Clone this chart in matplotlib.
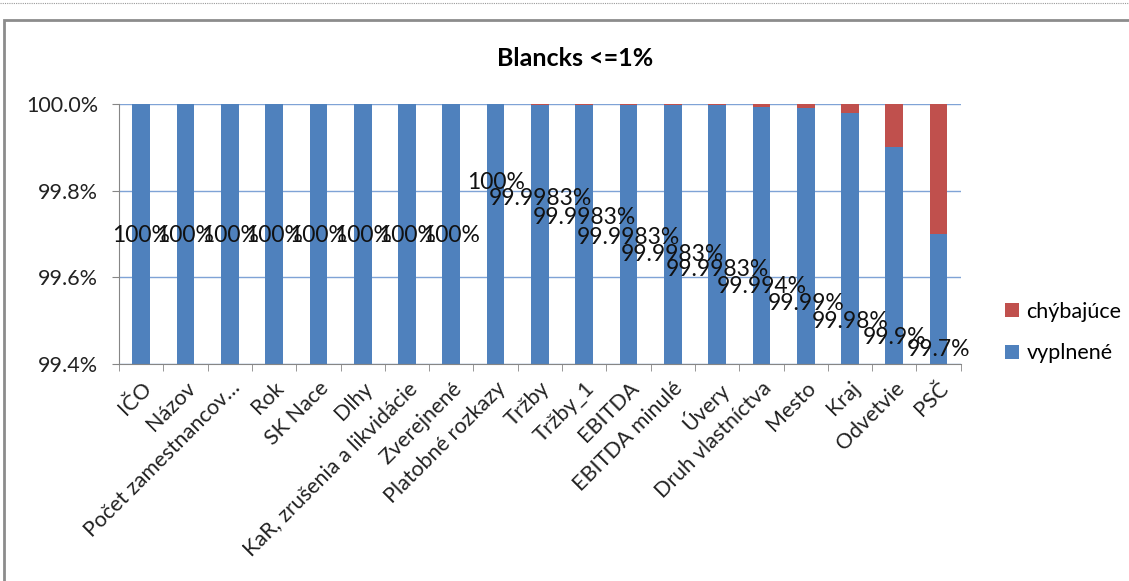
import matplotlib as m
m.use("Agg")
import matplotlib.pyplot as plt
from matplotlib.patches import Rectangle
from matplotlib.lines import Line2D
from matplotlib.ticker import FixedLocator, FuncFormatter

categories = ["IČO", "Názov", "Počet zamestnancov…", "Rok", "SK Nace", "Dlhy",
              "KaR, zrušenia a likvidácie", "Zverejnené", "Platobné rozkazy",
              "Tržby", "Tržby_1", "EBITDA", "EBITDA minulé", "Úvery",
              "Druh vlastníctva", "Mesto", "Kraj", "Odvetvie", "PSČ"]
# filled share in percent
vyplnene = [100, 100, 100, 100, 100, 100, 100, 100, 100,
            99.9983, 99.9983, 99.9983, 99.9983, 99.9983,
            99.994, 99.99, 99.98, 99.9, 99.7]
value_labels = ["100%"] * 9 + ["99.9983%"] * 5 + ["99.994%", "99.99%", "99.98%", "99.9%", "99.7%"]
chybajuce = [round(100 - v, 4) for v in vyplnene]

# where the data labels sit (they were dragged around in the original)
label_y = [99.697] * 8 + [99.818, 99.783, 99.739, 99.691, 99.652, 99.617,
                          99.578, 99.539, 99.497, 99.462, 99.433]

BLUE = "#4F81BD"
RED = "#C0504D"
FONT = ["Lato", "DejaVu Sans"]
plt.rcParams["font.family"] = FONT

fig = plt.figure(figsize=(11.29, 5.81), dpi=100)
ax = fig.add_axes([0.1054, 0.3735, 0.7456, 0.4475])

x = range(len(categories))
ax.bar(x, vyplnene, width=0.4, color=BLUE, label="vyplnené", zorder=2)
ax.bar(x, chybajuce, width=0.4, bottom=vyplnene, color=RED, label="chýbajúce", zorder=2)

for i, (txt, ly) in enumerate(zip(value_labels, label_y)):
    ax.text(i, ly, txt, ha="center", va="center", fontsize=16.5, color="#111111", zorder=3)

ax.set_ylim(99.4, 100.0)
ax.set_xlim(-0.5, len(categories) - 0.5)
ax.yaxis.set_major_locator(FixedLocator([99.4, 99.6, 99.8, 100.0]))
ax.yaxis.set_major_formatter(FuncFormatter(lambda v, p: "%.1f%%" % v))
ax.grid(axis="y", color="#7FA3D6", linewidth=1, zorder=0)
ax.set_axisbelow(True)

ax.set_xticks(list(x))
ax.set_xticklabels(categories, rotation=45, ha="right", rotation_mode="anchor", fontsize=15.5)
ax.xaxis.set_minor_locator(FixedLocator([i - 0.5 for i in range(len(categories) + 1)]))
ax.tick_params(axis="x", which="major", length=0, pad=10)
ax.tick_params(axis="x", which="minor", length=5, color="#868686", direction="out")
ax.tick_params(axis="y", length=5, color="#868686", labelsize=15.5, pad=10, labelcolor="#222222")
ax.tick_params(axis="x", labelcolor="#222222")

for s in ["top", "right"]:
    ax.spines[s].set_visible(False)
for s in ["left", "bottom"]:
    ax.spines[s].set_color("#868686")

# title is centred on the whole chart frame, not on the plot area
fig.text(575 / 1129, 1 - 58 / 581, "Blancks <=1%", fontsize=18, fontweight="bold",
         ha="center", va="center")

handles, labels = ax.get_legend_handles_labels()
ax.legend(handles[::-1], labels[::-1], loc="center left", bbox_to_anchor=(1.03, 0.121),
          frameon=False, fontsize=15.5, handlelength=0.62, handleheight=0.62,
          handletextpad=0.35, labelspacing=1.0)

# outer chart frame and dotted line at the top of the page
W, H = fig.get_size_inches() * fig.dpi
fig.add_artist(Rectangle((4 / W, -0.1), 1.2, (H - 20) / H + 0.1, transform=fig.transFigure,
                         fill=False, edgecolor="#8C8C8C", linewidth=2))
fig.add_artist(Line2D([0, 1], [1 - 3 / H, 1 - 3 / H], transform=fig.transFigure,
                      color="#9A9A9A", linewidth=0.8, linestyle=(0, (1, 1))))

fig.savefig("out.png", dpi=100)
